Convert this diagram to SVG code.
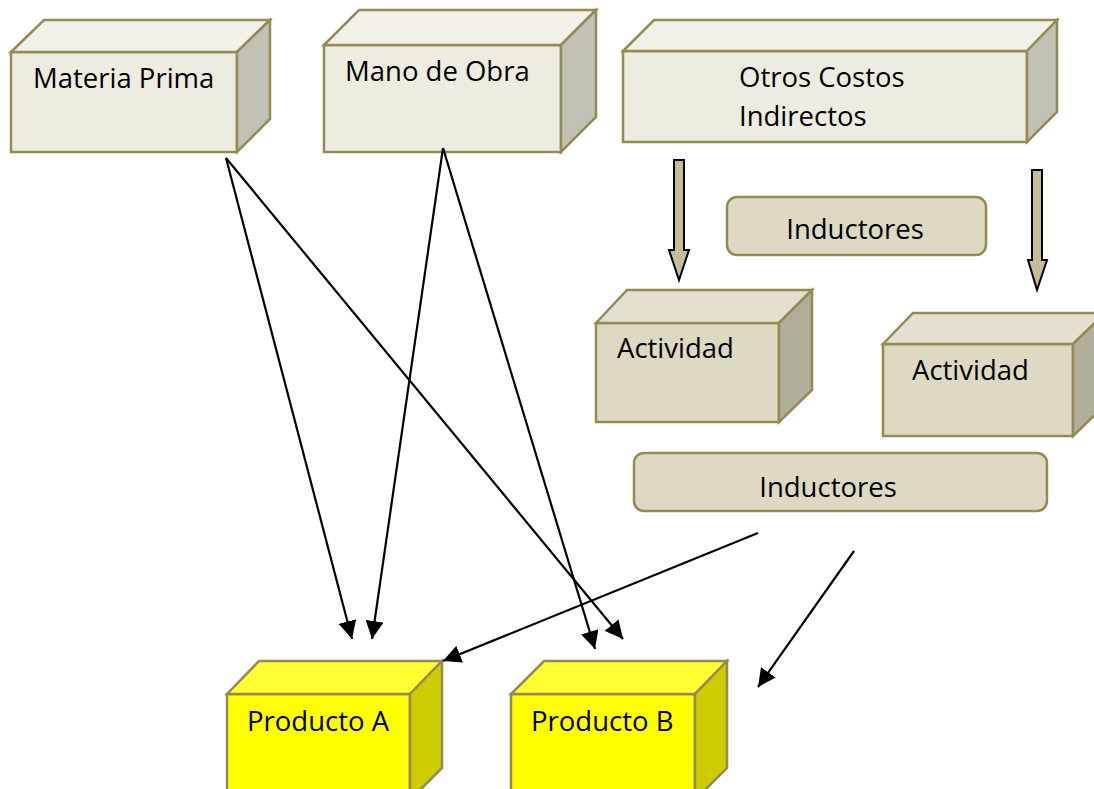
<svg xmlns="http://www.w3.org/2000/svg" width="1094" height="789" viewBox="0 0 1094 789">
<defs>
<style>
.lbl{font-family:"Open Sans","Liberation Sans",sans-serif;font-size:27.5px;fill:#000}
.edge{stroke:#948a54;stroke-width:2.5;stroke-linejoin:miter}
.lf{fill:#eeebe0}.lt{fill:#f2f0e9}.lr{fill:#c3c0b5}
.df{fill:#ddd9c3}.dt{fill:#e3e0cf}.dr{fill:#b1ae9c}
.yf{fill:#ffff00}.yt{fill:#ffff33}.yr{fill:#cccc00}
.pill{fill:#ddd9c3;stroke:#948a54;stroke-width:2.5}
.blk{fill:#c4bd97;stroke:#000;stroke-width:2}
.con{stroke:#000;stroke-width:2.2;fill:none;marker-end:url(#ah)}
</style>
<marker id="ah" markerUnits="userSpaceOnUse" markerWidth="19" markerHeight="18" viewBox="0 0 19 18" refX="18" refY="9" orient="auto">
<path d="M0,0 L18,9 L0,18 z" fill="#000"/>
</marker>
</defs>
<rect width="1094" height="789" fill="#fff"/>

<g id="materia-prima">
<polygon class="lf edge" points="11,52 237,52 237,152 11,152"/>
<polygon class="lt edge" points="11,52 44,20 270,20 237,52"/>
<polygon class="lr edge" points="237,52 270,20 270,119 237,152"/>
<text class="lbl" x="33" y="88">Materia Prima</text>
</g>

<g id="mano-de-obra">
<polygon class="lf edge" points="324,45 561,45 561,152 324,152"/>
<polygon class="lt edge" points="324,45 359,10 596,10 561,45"/>
<polygon class="lr edge" points="561,45 596,10 596,117 561,152"/>
<text class="lbl" x="345" y="81">Mano de Obra</text>
</g>

<g id="otros-costos">
<polygon class="lf edge" points="623,51 1027,51 1027,142 623,142"/>
<polygon class="lt edge" points="623,51 654,20 1057,20 1027,51"/>
<polygon class="lr edge" points="1027,51 1057,20 1057,112 1027,142"/>
<text class="lbl" x="739" y="87">Otros Costos</text>
<text class="lbl" x="739" y="126">Indirectos</text>
</g>

<g id="arrow-left">
<path class="blk" d="M674,160 L684,160 L684,250 L689,250 L679,280 L669,250 L674,250 Z"/>
</g>
<g id="arrow-right">
<path class="blk" d="M1032,170 L1042,170 L1042,260 L1047,260 L1037,290 L1028,260 L1032,260 Z"/>
</g>

<g id="inductores-1">
<rect class="pill" x="727" y="197" width="259" height="58" rx="10"/>
<text class="lbl" x="855" y="239" text-anchor="middle">Inductores</text>
</g>

<g id="actividad-1">
<polygon class="df edge" points="596,323 779,323 779,422 596,422"/>
<polygon class="dt edge" points="596,323 627,290 812,290 779,323"/>
<polygon class="dr edge" points="779,323 812,290 812,390 779,422"/>
<text class="lbl" x="617" y="358">Actividad</text>
</g>

<g id="actividad-2">
<polygon class="df edge" points="883,344 1073,344 1073,436 883,436"/>
<polygon class="dt edge" points="883,344 913,313 1105,313 1073,344"/>
<polygon class="dr edge" points="1073,344 1105,313 1105,405 1073,436"/>
<text class="lbl" x="912" y="380">Actividad</text>
</g>

<g id="inductores-2">
<rect class="pill" x="634" y="453" width="413" height="58" rx="10"/>
<text class="lbl" x="828" y="497" text-anchor="middle">Inductores</text>
</g>

<g id="producto-a">
<polygon class="yf edge" points="227,694 410,694 410,800 227,800"/>
<polygon class="yt edge" points="227,694 259,661 442,661 410,694"/>
<polygon class="yr edge" points="410,694 442,661 442,768 410,800"/>
<text class="lbl" x="247" y="731">Producto A</text>
</g>

<g id="producto-b">
<polygon class="yf edge" points="511,694 695,694 695,800 511,800"/>
<polygon class="yt edge" points="511,694 544,661 727,661 695,694"/>
<polygon class="yr edge" points="695,694 727,661 727,768 695,800"/>
<text class="lbl" x="531" y="731">Producto B</text>
</g>

<g id="connectors">
<line class="con" x1="226" y1="158" x2="352" y2="639"/>
<line class="con" x1="226" y1="158" x2="623" y2="639"/>
<line class="con" x1="443" y1="148" x2="372" y2="639"/>
<line class="con" x1="443" y1="148" x2="595" y2="649"/>
<line class="con" x1="758" y1="533" x2="443" y2="661"/>
<line class="con" x1="854" y1="551" x2="758" y2="687"/>
</g>
</svg>
